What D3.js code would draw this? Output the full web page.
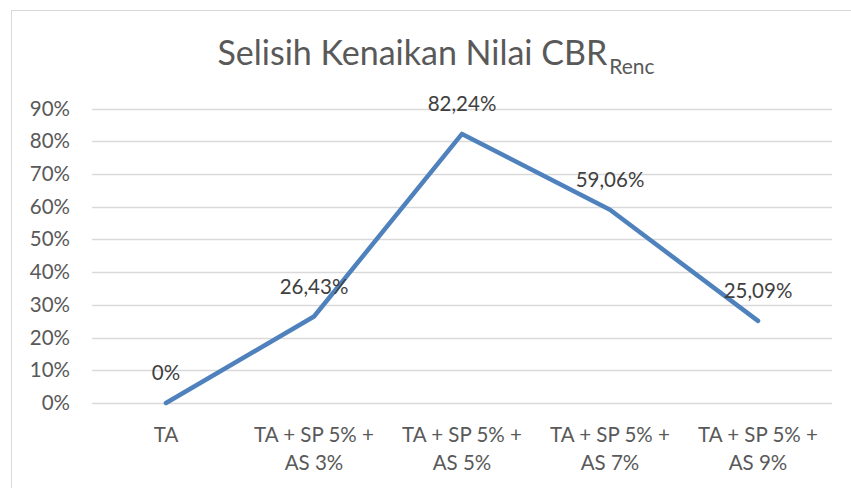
<!DOCTYPE html>
<html>
<head>
<meta charset="utf-8">
<script src="https://cdn.jsdelivr.net/npm/d3@7"></script>
<style>
  body { margin: 0; background: #fff; }
  text { font-family: Lato, 'Open Sans', sans-serif; }
</style>
</head>
<body>
<svg id="container" width="851" height="488"></svg>
<script>
const categories = [
  ['TA'],
  ['TA + SP 5% +', 'AS 3%'],
  ['TA + SP 5% +', 'AS 5%'],
  ['TA + SP 5% +', 'AS 7%'],
  ['TA + SP 5% +', 'AS 9%']
]
const values = [0, 0.2643, 0.8224, 0.5906, 0.2509]
const valueLabels = ['0%', '26,43%', '82,24%', '59,06%', '25,09%']
const yTicks = [0, 0.1, 0.2, 0.3, 0.4, 0.5, 0.6, 0.7, 0.8, 0.9]

const svg = d3.select('#container')

// chart frame (runs off right/bottom edge)
svg.append('rect')
  .attr('x', 11.5).attr('y', 10.5)
  .attr('width', 900).attr('height', 600)
  .attr('fill', 'none').attr('stroke', '#d9d9d9')

const x = d3.scaleBand().domain(d3.range(categories.length)).range([92, 832])
const y = d3.scaleLinear().domain([0, 0.9]).range([403, 108.5])

// gridlines
svg.append('g')
  .selectAll('line')
  .data(yTicks)
  .enter()
  .append('line')
  .attr('x1', 92).attr('x2', 832)
  .attr('y1', (d) => Math.round(y(d)) + 0.5)
  .attr('y2', (d) => Math.round(y(d)) + 0.5)
  .attr('stroke', '#d9d9d9')
  .attr('stroke-width', 1.3)

// y axis labels
svg.append('g')
  .selectAll('text')
  .data(yTicks)
  .enter()
  .append('text')
  .attr('x', 70)
  .attr('y', (d) => y(d) + 7)
  .attr('text-anchor', 'end')
  .attr('font-size', 20.5)
  .attr('fill', '#595959')
  .text((d) => Math.round(d * 100) + '%')

// category labels
const catG = svg.append('g')
  .selectAll('text')
  .data(categories)
  .enter()
  .append('text')
  .attr('text-anchor', 'middle')
  .attr('font-size', 20.5)
  .attr('fill', '#595959')

catG.selectAll('tspan')
  .data((d, i) => d.map((t) => ({ t, i })))
  .enter()
  .append('tspan')
  .attr('x', (d) => x(d.i) + x.bandwidth() / 2)
  .attr('y', (d, j) => 442 + j * 27.5)
  .text((d) => d.t)

// line
const line = d3.line()
  .x((d, i) => x(i) + x.bandwidth() / 2)
  .y((d) => y(d))

svg.append('path')
  .datum(values)
  .attr('d', line)
  .attr('fill', 'none')
  .attr('stroke', '#4f81bd')
  .attr('stroke-width', 4.5)
  .attr('stroke-linecap', 'round')
  .attr('stroke-linejoin', 'round')

// data labels
svg.append('g')
  .selectAll('text')
  .data(values)
  .enter()
  .append('text')
  .attr('x', (d, i) => x(i) + x.bandwidth() / 2)
  .attr('y', (d) => y(d) - 23)
  .attr('text-anchor', 'middle')
  .attr('font-size', 20.5)
  .attr('fill', '#404040')
  .text((d, i) => valueLabels[i])

// title
const title = svg.append('text')
  .attr('x', 436)
  .attr('y', 65)
  .attr('text-anchor', 'middle')
  .attr('font-size', 34)
  .attr('fill', '#595959')
title.append('tspan').text('Selisih Kenaikan Nilai CBR')
title.append('tspan').attr('font-size', 21).attr('dx', 2).attr('dy', 9).text('Renc')
</script>
</body>
</html>
